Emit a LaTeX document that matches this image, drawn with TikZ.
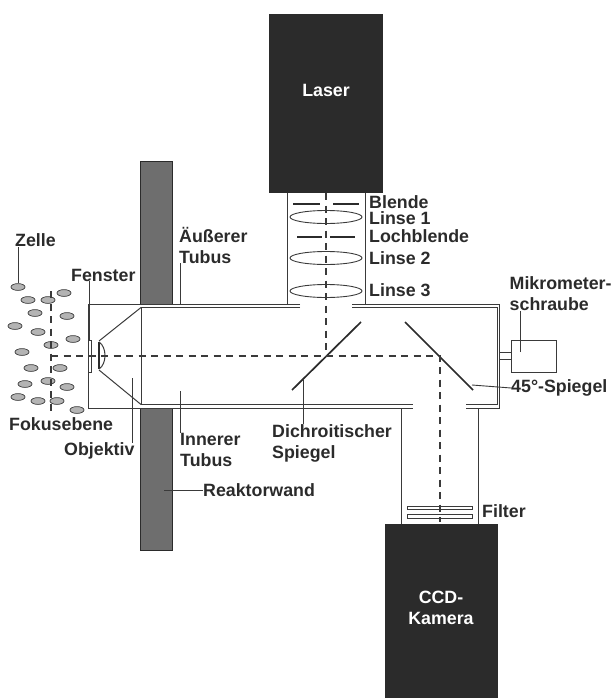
\documentclass[tikz,border=0pt]{standalone}
\usepackage{fontspec}
\setmainfont{Liberation Sans}
\usepackage{tikz}
\usetikzlibrary{arrows.meta,positioning,calc}
\definecolor{rkDark}{HTML}{2B2B2B}
\definecolor{rkLine}{HTML}{3A3A3A}
\definecolor{rkWall}{HTML}{6E6E6E}
\definecolor{rkCell}{HTML}{B4B4B4}
\tikzset{
  lbl/.style={anchor=west, inner sep=0pt, text=rkDark, align=left,
    font=\fontsize{17.8}{21}\selectfont\bfseries},
  leader/.style={rkLine, line width=0.9pt},
  tube/.style={rkLine, line width=1pt},
  beam/.style={rkLine, line width=1.2pt, dash pattern=on 7pt off 5.5pt},
  mirror/.style={rkDark, line width=1.7pt},
  lens/.style={rkLine, line width=0.9pt},
  stopbar/.style={rkDark, line width=1.7pt},
  cell/.style={draw=rkLine, line width=0.7pt, fill=rkCell}
}
\begin{document}
\begin{tikzpicture}[x=1pt, y=-1pt, line cap=butt, line join=miter]
    \useasboundingbox (0,0) rectangle (612,698);

    % ── reactor wall, laser and camera ──────────────────────────────────
    \fill[rkWall, draw=rkDark, line width=0.8pt] (140,304) -- (140,161) -- (172,161) -- (172,304);
    \fill[rkWall, draw=rkDark, line width=0.8pt] (140,408) -- (140,550) -- (172,550) -- (172,408);
    \fill[rkDark] (269,14) rectangle (383,193);
    \fill[rkDark] (385,524) rectangle (498,698);
    \node[lbl, text=white, anchor=center] (laser) at (326,90) {Laser};
    \node[lbl, text=white, anchor=center, align=center] (kamera) at (441,608) {CCD-\\Kamera};

    % ── outer tube with its openings ────────────────────────────────────
    \draw[tube] (300,304) -- (88,304) -- (88,408) -- (413,408);
    \draw[tube] (352,304) -- (499.5,304) -- (499.5,408) -- (466,408);

    % ── inner tube and objective ────────────────────────────────────────
    \draw[tube] (300,307.5) -- (141,307.5) -- (141,404.5) -- (413,404.5);
    \draw[tube] (352,307.5) -- (497,307.5) -- (497,404.5) -- (466,404.5);
    \draw[tube] (141,307.5) -- (99,341);
    \draw[tube] (141,404.5) -- (99,370);
    \draw[rkDark, line width=1.6pt] (99,342) -- (99,369);
    \draw[tube] (99,342) .. controls (107,347) and (107,364) .. (99,369);
    \draw[tube] (88.5,340) rectangle (91.5,372);

    % ── tubes to laser and camera ───────────────────────────────────────
    \draw[tube] (287,193) -- (287,304);
    \draw[tube] (365,193) -- (365,304);
    \draw[tube] (401,408) -- (401,524);
    \draw[tube] (478,408) -- (478,524);

    % ── stops and lenses ────────────────────────────────────────────────
    \draw[stopbar] (293,204) -- (320,204) (333,204) -- (359,204);
    \draw[stopbar] (297,237) -- (322,237) (330,237) -- (355,237);
    \foreach \ly in {217,258,291}
      \draw[lens] (326,\ly) ellipse (36 and 6.5);
    \draw[tube] (407,506) rectangle (472,509.5);
    \draw[tube] (407,514) rectangle (472,518);

    % ── mirrors ─────────────────────────────────────────────────────────
    \draw[mirror] (292,390) -- (361,322);
    \draw[mirror] (405,322) -- (473,390);

    % ── micrometer screw ────────────────────────────────────────────────
    \draw[tube] (499.5,352) rectangle (511,359);
    \draw[tube] (511,340) rectangle (556,372);

    % ── cells ───────────────────────────────────────────────────────────
    \foreach \cx/\cy in {18/287,28/300,48/300,64/293,35/313,67/316,15/326,38/332,
                         73/339,51/345,22/352,31/368,60/368,25/384,48/381,67/387,
                         18/397,38/401,57/401,77/410}
      \draw[cell] (\cx,\cy) ellipse (7 and 3.4);

    % ── light path and focal plane ──────────────────────────────────────
    \draw[beam] (51,291) -- (51,415);
    \draw[beam] (51,356) -- (440,356) -- (440,522);
    \draw[beam] (326,193) -- (326,356);

    % ── labels ──────────────────────────────────────────────────────────
    \node[lbl] (zelle) at (15,240) {Zelle};
    \node[lbl] (fenster) at (71,275) {Fenster};
    \node[lbl] (aeusserer) at (179,245) {Äußerer\\Tubus};
    \node[lbl] (fokus) at (9,424) {Fokusebene};
    \node[lbl] (objektiv) at (64,451) {Objektiv};
    \node[lbl] (innerer) at (180,450) {Innerer\\Tubus};
    \node[lbl] (dichro) at (272,443) {Dichroitischer\\Spiegel};
    \node[lbl] (wand) at (203,490) {Reaktorwand};
    \node[lbl] (filter) at (482,511) {Filter};
    \node[lbl] (mikro) at (509.5,294) {Mikrometer-\\schraube};
    \node[lbl] (spiegel) at (511,388) {45°-Spiegel};
    \node[lbl] (blende) at (369,202) {Blende};
    \node[lbl] (linseA) at (369,218.5) {Linse 1};
    \node[lbl] (loch) at (369,236) {Lochblende};
    \node[lbl] (linseB) at (369,258) {Linse 2};
    \node[lbl] (linseC) at (369,290) {Linse 3};

    % ── leader lines ────────────────────────────────────────────────────
    \coordinate (zelleTip) at (18,283);
    \coordinate (fensterTip) at (89.5,340);
    \coordinate (aeussererTip) at (180,304);
    \coordinate (objektivTip) at (132,378);
    \coordinate (innererTip) at (180,391);
    \coordinate (dichroTip) at (303,380);
    \coordinate (wandTip) at (164,490);
    \coordinate (mikroTip) at (520,352);
    \coordinate (spiegelTip) at (472,385);
    \draw[leader] (zelleTip) -- (zelleTip|-zelle.south);
    \draw[leader] (fensterTip) -- (fensterTip|-fenster.south);
    \draw[leader] (aeussererTip) -- (aeussererTip|-aeusserer.south);
    \draw[leader] (objektivTip) -- (objektivTip|-objektiv.north);
    \draw[leader] (innererTip) -- (innererTip|-innerer.north);
    \draw[leader] (dichroTip) -- (dichroTip|-dichro.north);
    \draw[leader] (wandTip) -- (wand.west);
    \draw[leader] (mikroTip) -- (mikroTip|-mikro.south);
    \draw[leader] (spiegelTip) -- (spiegel.west);
\end{tikzpicture}
\end{document}
